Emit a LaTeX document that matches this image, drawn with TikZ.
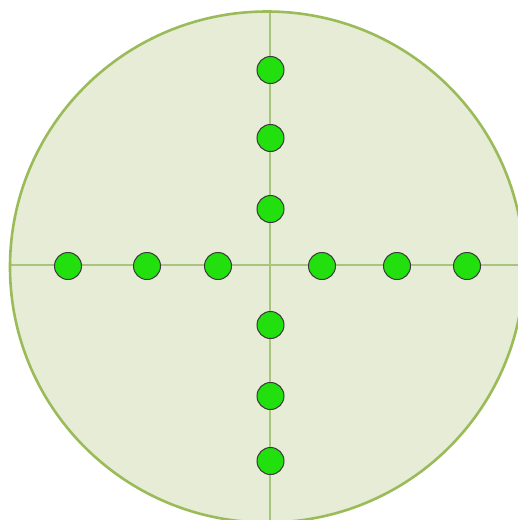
\documentclass[tikz,border=0pt]{standalone}
\definecolor{bgfill}{HTML}{E6ECD6}
\definecolor{rim}{HTML}{9BBB59}
\definecolor{axis}{HTML}{A9C47C}
\definecolor{dotfill}{HTML}{22E00E}
\definecolor{dotrim}{HTML}{3A3A3A}
\tikzset{
  dot/.style={circle,draw=dotrim,line width=1pt,fill=dotfill,minimum size=27pt,inner sep=0pt},
  axisline/.style={draw=axis,line width=1.2pt}
}
\begin{document}
\begin{tikzpicture}[x=1pt,y=-1pt]
\useasboundingbox (0,0) rectangle (518,520);
\clip (0,0) rectangle (518,520);
\coordinate (c) at (267,267);
\fill[bgfill] (c) ellipse [x radius=257, y radius=255.5];
\coordinate (l) at (10,265);
\coordinate (r) at (524,265);
\coordinate (t) at (270,11.5);
\coordinate (b) at (270,522);
\draw[axisline] (l) -- (r);
\draw[axisline] (t) -- (b);
\draw[rim,line width=2.6pt] (c) ellipse [x radius=257, y radius=255.5];
\foreach \x [count=\i] in {68,147,218,322,397,467} {
  \node[dot] (h\i) at (\x,266) {};
}
\foreach \y [count=\i] in {70,138,209,325,396,461} {
  \node[dot] (v\i) at (270.5,\y) {};
}
\end{tikzpicture}
\end{document}
